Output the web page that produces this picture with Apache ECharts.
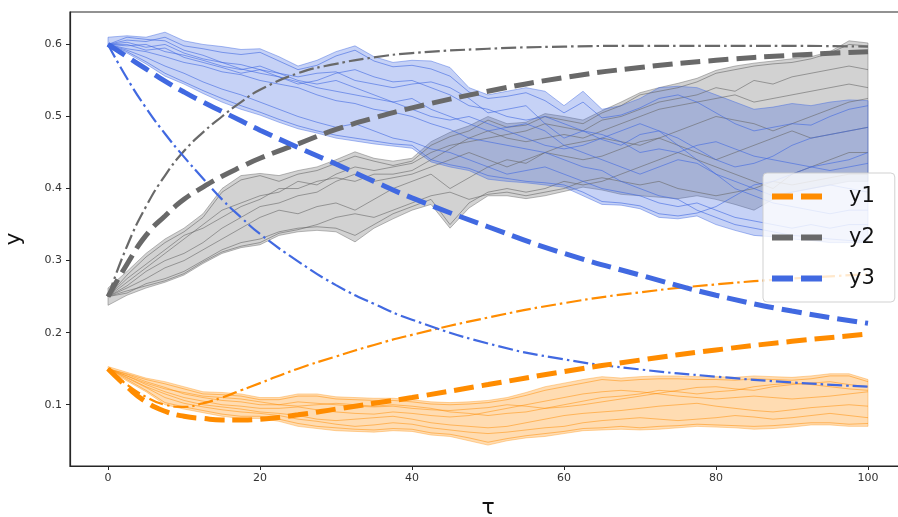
<!DOCTYPE html>
<html><head><meta charset="utf-8">
<script src="https://cdn.jsdelivr.net/npm/echarts@6/dist/echarts.min.js"></script>
<style>html,body{margin:0;padding:0;background:#fff}#c{width:898px;height:517px}</style>
</head><body><div id="c"></div>
<script>
// ---- time grid for stochastic runs and bands ----
const tau = [0,2.5,5,7.5,10,12.5,15,17.5,20,22.5,25,27.5,30,32.5,35,37.5,40,42.5,45,47.5,50,52.5,55,57.5,60,62.5,65,67.5,70,72.5,75,77.5,80,82.5,85,87.5,90,92.5,95,97.5,100];

// ---- y1 (orange) ----
const y1Upper = [0.153,0.145,0.137,0.132,0.125,0.118,0.117,0.115,0.11,0.11,0.115,0.115,0.111,0.11,0.109,0.109,0.107,0.104,0.103,0.104,0.106,0.11,0.117,0.125,0.13,0.135,0.139,0.137,0.139,0.14,0.14,0.139,0.139,0.138,0.14,0.139,0.138,0.14,0.143,0.143,0.135];
const y1Lower = [0.148,0.133,0.118,0.1,0.094,0.089,0.084,0.081,0.081,0.077,0.07,0.067,0.064,0.063,0.062,0.064,0.063,0.058,0.056,0.05,0.044,0.05,0.054,0.056,0.06,0.064,0.065,0.066,0.065,0.066,0.068,0.07,0.069,0.068,0.066,0.067,0.069,0.072,0.072,0.07,0.07];
const y1Run1 = [0.15,0.143,0.135,0.129,0.122,0.115,0.114,0.112,0.107,0.107,0.112,0.112,0.108,0.107,0.106,0.106,0.104,0.101,0.1,0.101,0.103,0.107,0.113,0.12,0.125,0.13,0.135,0.133,0.135,0.136,0.136,0.135,0.135,0.134,0.136,0.135,0.134,0.136,0.14,0.14,0.132];
const y1Run2 = [0.15,0.135,0.12,0.103,0.097,0.092,0.087,0.084,0.084,0.08,0.074,0.07,0.068,0.066,0.065,0.067,0.066,0.061,0.059,0.054,0.048,0.053,0.057,0.06,0.063,0.067,0.068,0.07,0.068,0.07,0.071,0.073,0.072,0.071,0.07,0.071,0.073,0.075,0.075,0.073,0.074];
const y1Run3 = [0.15,0.14,0.128,0.118,0.11,0.105,0.1,0.098,0.095,0.095,0.097,0.093,0.09,0.088,0.087,0.09,0.088,0.085,0.083,0.085,0.09,0.095,0.1,0.105,0.11,0.115,0.118,0.12,0.118,0.115,0.112,0.11,0.108,0.11,0.112,0.11,0.108,0.11,0.112,0.115,0.118];
const y1Run4 = [0.15,0.138,0.125,0.115,0.106,0.1,0.097,0.094,0.09,0.088,0.085,0.08,0.078,0.08,0.082,0.084,0.08,0.075,0.072,0.07,0.068,0.07,0.075,0.08,0.085,0.088,0.09,0.092,0.095,0.098,0.1,0.102,0.098,0.095,0.092,0.09,0.093,0.096,0.098,0.1,0.098];
const y1Run5 = [0.15,0.142,0.132,0.124,0.115,0.11,0.106,0.104,0.1,0.1,0.104,0.102,0.1,0.098,0.097,0.098,0.095,0.093,0.092,0.094,0.096,0.1,0.098,0.095,0.097,0.1,0.104,0.108,0.112,0.116,0.12,0.124,0.125,0.122,0.12,0.125,0.128,0.13,0.132,0.128,0.125];
const y1Run6 = [0.15,0.14,0.13,0.122,0.117,0.112,0.11,0.108,0.104,0.1,0.098,0.1,0.102,0.1,0.098,0.1,0.098,0.095,0.09,0.088,0.085,0.088,0.09,0.095,0.1,0.105,0.11,0.112,0.115,0.12,0.118,0.115,0.118,0.12,0.125,0.128,0.13,0.128,0.125,0.122,0.12];
const y1Run7 = [0.15,0.137,0.124,0.11,0.102,0.097,0.093,0.09,0.088,0.085,0.08,0.077,0.073,0.07,0.072,0.075,0.073,0.068,0.065,0.062,0.06,0.062,0.065,0.068,0.07,0.075,0.078,0.08,0.082,0.08,0.078,0.08,0.082,0.085,0.083,0.08,0.082,0.085,0.088,0.085,0.082];

// ---- y2 (gray) ----
const y2Upper = [0.262,0.285,0.31,0.33,0.345,0.365,0.4,0.418,0.421,0.418,0.425,0.43,0.44,0.451,0.442,0.438,0.442,0.465,0.478,0.487,0.5,0.49,0.492,0.504,0.5,0.495,0.508,0.52,0.533,0.54,0.546,0.553,0.564,0.57,0.574,0.577,0.58,0.583,0.59,0.605,0.602];
const y2Lower = [0.238,0.252,0.262,0.27,0.28,0.296,0.31,0.318,0.322,0.335,0.34,0.342,0.34,0.326,0.345,0.358,0.37,0.378,0.345,0.373,0.39,0.39,0.386,0.39,0.396,0.402,0.398,0.392,0.39,0.388,0.386,0.39,0.385,0.378,0.37,0.385,0.395,0.4,0.405,0.41,0.41];
const y2Run1 = [0.25,0.28,0.305,0.325,0.34,0.36,0.395,0.412,0.418,0.41,0.42,0.425,0.435,0.445,0.438,0.432,0.438,0.46,0.472,0.48,0.495,0.485,0.488,0.5,0.495,0.49,0.505,0.515,0.53,0.535,0.54,0.548,0.56,0.565,0.57,0.573,0.575,0.58,0.588,0.6,0.598];
const y2Run2 = [0.25,0.27,0.29,0.31,0.33,0.35,0.37,0.38,0.39,0.395,0.41,0.405,0.42,0.43,0.425,0.43,0.435,0.45,0.46,0.465,0.47,0.475,0.48,0.49,0.485,0.48,0.495,0.5,0.51,0.52,0.525,0.53,0.54,0.535,0.55,0.545,0.555,0.56,0.565,0.57,0.565];
const y2Run3 = [0.25,0.262,0.275,0.29,0.3,0.315,0.33,0.345,0.36,0.37,0.365,0.375,0.38,0.37,0.385,0.4,0.41,0.42,0.4,0.415,0.43,0.44,0.435,0.45,0.46,0.465,0.47,0.465,0.46,0.47,0.48,0.49,0.5,0.495,0.49,0.48,0.49,0.5,0.51,0.52,0.525];
const y2Run4 = [0.25,0.255,0.268,0.275,0.285,0.3,0.315,0.325,0.33,0.34,0.345,0.347,0.345,0.335,0.35,0.365,0.375,0.385,0.35,0.38,0.395,0.4,0.395,0.4,0.41,0.405,0.41,0.42,0.43,0.44,0.45,0.44,0.43,0.42,0.41,0.4,0.42,0.43,0.44,0.45,0.45];
const y2Run5 = [0.25,0.265,0.285,0.3,0.31,0.325,0.345,0.36,0.375,0.38,0.39,0.395,0.41,0.42,0.41,0.415,0.42,0.43,0.44,0.45,0.44,0.43,0.44,0.45,0.445,0.44,0.445,0.455,0.465,0.47,0.46,0.45,0.44,0.45,0.46,0.47,0.48,0.47,0.475,0.48,0.485];
const y2Run6 = [0.25,0.275,0.295,0.315,0.335,0.345,0.36,0.375,0.385,0.4,0.4,0.41,0.415,0.41,0.42,0.42,0.425,0.44,0.455,0.47,0.48,0.47,0.465,0.47,0.475,0.47,0.48,0.49,0.5,0.51,0.515,0.52,0.525,0.53,0.52,0.525,0.53,0.535,0.54,0.545,0.54];
const y2Run7 = [0.25,0.258,0.265,0.272,0.282,0.298,0.312,0.32,0.325,0.338,0.343,0.35,0.36,0.365,0.36,0.37,0.38,0.39,0.395,0.385,0.392,0.395,0.39,0.395,0.4,0.41,0.415,0.41,0.405,0.41,0.4,0.395,0.39,0.395,0.4,0.41,0.405,0.41,0.415,0.42,0.42];

// ---- y3 (blue) ----
const y3Upper = [0.61,0.612,0.61,0.617,0.605,0.6,0.597,0.593,0.594,0.583,0.57,0.578,0.59,0.598,0.583,0.575,0.578,0.577,0.568,0.54,0.53,0.535,0.54,0.535,0.515,0.535,0.51,0.515,0.525,0.54,0.542,0.54,0.53,0.52,0.51,0.513,0.518,0.515,0.52,0.523,0.522];
const y3Lower = [0.6,0.588,0.573,0.556,0.545,0.532,0.52,0.51,0.502,0.492,0.483,0.477,0.47,0.466,0.462,0.459,0.456,0.437,0.43,0.425,0.413,0.41,0.408,0.405,0.402,0.39,0.378,0.377,0.372,0.36,0.358,0.362,0.35,0.342,0.335,0.333,0.33,0.328,0.325,0.325,0.325];
const y3Run1 = [0.6,0.606,0.604,0.61,0.598,0.594,0.589,0.586,0.589,0.577,0.565,0.571,0.584,0.592,0.577,0.569,0.571,0.566,0.556,0.534,0.525,0.528,0.533,0.522,0.505,0.52,0.498,0.502,0.512,0.525,0.53,0.52,0.505,0.49,0.48,0.485,0.49,0.488,0.5,0.51,0.515];
const y3Run2 = [0.6,0.594,0.59,0.583,0.575,0.57,0.562,0.558,0.55,0.545,0.54,0.53,0.522,0.518,0.51,0.506,0.5,0.49,0.482,0.47,0.465,0.46,0.455,0.45,0.44,0.43,0.425,0.41,0.4,0.39,0.385,0.37,0.36,0.35,0.345,0.34,0.335,0.333,0.33,0.328,0.327];
const y3Run3 = [0.6,0.59,0.576,0.56,0.548,0.536,0.525,0.515,0.506,0.496,0.487,0.48,0.474,0.47,0.466,0.462,0.46,0.44,0.433,0.428,0.418,0.414,0.41,0.408,0.405,0.395,0.382,0.38,0.376,0.365,0.362,0.366,0.375,0.39,0.405,0.41,0.42,0.43,0.435,0.44,0.45];
const y3Run4 = [0.6,0.61,0.607,0.605,0.592,0.585,0.575,0.572,0.565,0.56,0.555,0.56,0.562,0.55,0.545,0.54,0.545,0.548,0.54,0.525,0.505,0.51,0.515,0.49,0.47,0.48,0.468,0.46,0.475,0.48,0.47,0.455,0.44,0.43,0.435,0.445,0.46,0.47,0.475,0.48,0.485];
const y3Run5 = [0.6,0.598,0.6,0.59,0.585,0.578,0.57,0.565,0.57,0.56,0.55,0.545,0.55,0.54,0.53,0.52,0.525,0.51,0.5,0.49,0.48,0.485,0.49,0.48,0.46,0.45,0.44,0.43,0.42,0.43,0.44,0.435,0.42,0.41,0.4,0.39,0.395,0.4,0.405,0.4,0.395];
const y3Run6 = [0.6,0.603,0.596,0.6,0.588,0.58,0.575,0.566,0.56,0.555,0.548,0.54,0.535,0.53,0.525,0.52,0.51,0.5,0.495,0.5,0.49,0.48,0.47,0.46,0.455,0.46,0.47,0.48,0.49,0.48,0.46,0.44,0.42,0.4,0.39,0.38,0.375,0.37,0.365,0.37,0.37];
const y3Run7 = [0.6,0.6,0.592,0.595,0.582,0.575,0.568,0.56,0.565,0.555,0.545,0.55,0.56,0.565,0.555,0.548,0.55,0.54,0.53,0.515,0.51,0.5,0.495,0.5,0.49,0.48,0.475,0.465,0.45,0.455,0.45,0.46,0.465,0.455,0.445,0.44,0.435,0.43,0.425,0.43,0.435];
const y3Run8 = [0.6,0.592,0.582,0.57,0.56,0.548,0.538,0.53,0.52,0.51,0.5,0.492,0.485,0.49,0.48,0.47,0.465,0.455,0.45,0.44,0.43,0.42,0.425,0.43,0.42,0.41,0.4,0.395,0.39,0.38,0.375,0.38,0.37,0.36,0.355,0.35,0.345,0.35,0.345,0.35,0.35];

// ---- deterministic curves ----
const tauM = [0,2.5,5,7.5,10,12.5,15,17.5,20,25,30,35,40,50,60,70,80,90,100];
const y1Dashed  = [0.15,0.125,0.104,0.091,0.084,0.081,0.079,0.079,0.08,0.086,0.094,0.102,0.11,0.128,0.146,0.162,0.176,0.188,0.198];
const y1DashDot = [0.15,0.128,0.111,0.1,0.097,0.102,0.11,0.12,0.13,0.15,0.167,0.183,0.197,0.221,0.241,0.256,0.267,0.275,0.281];
const y2Dashed  = [0.25,0.295,0.335,0.362,0.385,0.402,0.417,0.43,0.442,0.462,0.482,0.498,0.512,0.535,0.554,0.568,0.578,0.585,0.59];
const y2DashDot = [0.25,0.32,0.375,0.418,0.452,0.478,0.5,0.52,0.537,0.56,0.573,0.582,0.588,0.594,0.597,0.598,0.598,0.598,0.597];
const y3Dashed  = [0.6,0.583,0.566,0.549,0.534,0.52,0.507,0.494,0.481,0.457,0.434,0.41,0.387,0.347,0.31,0.28,0.252,0.23,0.213];
const y3DashDot = [0.6,0.553,0.512,0.476,0.444,0.414,0.385,0.36,0.337,0.299,0.266,0.24,0.218,0.185,0.163,0.149,0.139,0.131,0.125];

const xTicks = [0,20,40,60,80,100];
const yTicks = [0.1,0.2,0.3,0.4,0.5,0.6];
const seriesNames = ['y1','y2','y3'];

const COL = {
  y1: {main:'#ff8c00', fill:'rgba(255,140,0,0.3)', edge:'rgba(255,140,0,0.35)', run:'rgba(255,140,0,0.5)'},
  y2: {main:'#696969', fill:'rgba(105,105,105,0.3)', edge:'rgba(105,105,105,0.45)', run:'rgba(105,105,105,0.6)'},
  y3: {main:'#4169e1', fill:'rgba(65,105,225,0.3)', edge:'rgba(65,105,225,0.45)', run:'rgba(65,105,225,0.6)'}
};
const FONT = 'DejaVu Sans';

function bandSeries(lower, upper, c) {
  return {
    type: 'custom', silent: true, z: 1, clip: false,
    data: tau.map((t, i) => [t, lower[i], upper[i]]),
    encode: {x: 0, y: [1, 2]},
    renderItem: function (params, api) {
      if (params.dataIndex !== 0) return null;
      const pts = [];
      for (let i = 0; i < tau.length; i++) pts.push(api.coord([tau[i], upper[i]]));
      for (let i = tau.length - 1; i >= 0; i--) pts.push(api.coord([tau[i], lower[i]]));
      return {type: 'polygon', shape: {points: pts}, style: {fill: c.fill, stroke: c.edge, lineWidth: 1}};
    }
  };
}
function runSeries(run, c) {
  return {
    type: 'line', silent: true, z: 2, symbol: 'none', showSymbol: false,
    data: tau.map((t, i) => [t, run[i]]),
    lineStyle: {color: c.run, width: 1}
  };
}
function curveSeries(name, vals, c, dashed) {
  return {
    type: 'line', name: name, silent: true, z: 3, symbol: 'none', showSymbol: false,
    smooth: 0.5,
    data: tauM.map((t, i) => [t, vals[i]]),
    lineStyle: dashed
      ? {color: c.main, width: 5, type: [20, 8], cap: 'butt'}
      : {color: c.main, width: 2.2, type: [15, 4, 2.5, 4], cap: 'butt'},
    itemStyle: {color: c.main}
  };
}

const series = [
  bandSeries(y1Lower, y1Upper, COL.y1),
  bandSeries(y2Lower, y2Upper, COL.y2),
  bandSeries(y3Lower, y3Upper, COL.y3),
  ...[y1Run1, y1Run2, y1Run3, y1Run4, y1Run5, y1Run6, y1Run7].map(r => runSeries(r, COL.y1)),
  ...[y2Run1, y2Run2, y2Run3, y2Run4, y2Run5, y2Run6, y2Run7].map(r => runSeries(r, COL.y2)),
  ...[y3Run1, y3Run2, y3Run3, y3Run4, y3Run5, y3Run6, y3Run7, y3Run8].map(r => runSeries(r, COL.y3)),
  curveSeries('y1dd', y1DashDot, COL.y1, false),
  curveSeries('y2dd', y2DashDot, COL.y2, false),
  curveSeries('y3dd', y3DashDot, COL.y3, false),
  curveSeries(seriesNames[0], y1Dashed, COL.y1, true),
  curveSeries(seriesNames[1], y2Dashed, COL.y2, true),
  curveSeries(seriesNames[2], y3Dashed, COL.y3, true)
];

const chart = echarts.init(document.getElementById('c'), null, {renderer: 'canvas'});
chart.setOption({
  animation: false,
  backgroundColor: '#ffffff',
  textStyle: {fontFamily: FONT},
  grid: {left: 70, right: -8, top: 12, bottom: 51, show: true, borderColor: '#262626', borderWidth: 1.2,
         containLabel: false, outerBoundsMode: 'none'},
  legend: {
    data: seriesNames,
    orient: 'vertical',
    left: 763, top: 173,
    padding: [13, 20, 13, 9],
    itemGap: 20,
    icon: 'path://M0,0H21V6H0Z M29,0H50V6H29Z',
    itemWidth: 50, itemHeight: 6,
    backgroundColor: 'rgba(255,255,255,0.8)',
    borderColor: 'rgba(204,204,204,0.9)', borderWidth: 1, borderRadius: 4,
    textStyle: {fontSize: 21, color: '#111', fontFamily: FONT, padding: [0, 0, 0, 22]}
  },
  xAxis: {
    type: 'value', min: -5, max: 105,
    name: 'τ', nameLocation: 'middle', nameGap: 31,
    nameTextStyle: {fontSize: 22, color: '#111', fontFamily: FONT},
    axisLine: {show: true, onZero: false, lineStyle: {color: '#262626', width: 1.2}},
    axisTick: {show: true, customValues: xTicks, length: 4, lineStyle: {color: '#262626'}},
    axisLabel: {customValues: xTicks, color: '#333', fontSize: 11, margin: 7, fontFamily: FONT},
    splitLine: {show: false}
  },
  yAxis: {
    type: 'value', min: 0.015, max: 0.645,
    name: 'y', nameLocation: 'middle', nameGap: 45, nameRotate: 90,
    nameTextStyle: {fontSize: 22, color: '#111', fontFamily: FONT},
    axisLine: {show: true, onZero: false, lineStyle: {color: '#262626', width: 1.2}},
    axisTick: {show: true, customValues: yTicks, length: 4, lineStyle: {color: '#262626'}},
    axisLabel: {customValues: yTicks, color: '#333', fontSize: 11, margin: 8, fontFamily: FONT,
      formatter: v => Number(v).toFixed(1)},
    splitLine: {show: false}
  },
  series: series
});
</script>
</body></html>
